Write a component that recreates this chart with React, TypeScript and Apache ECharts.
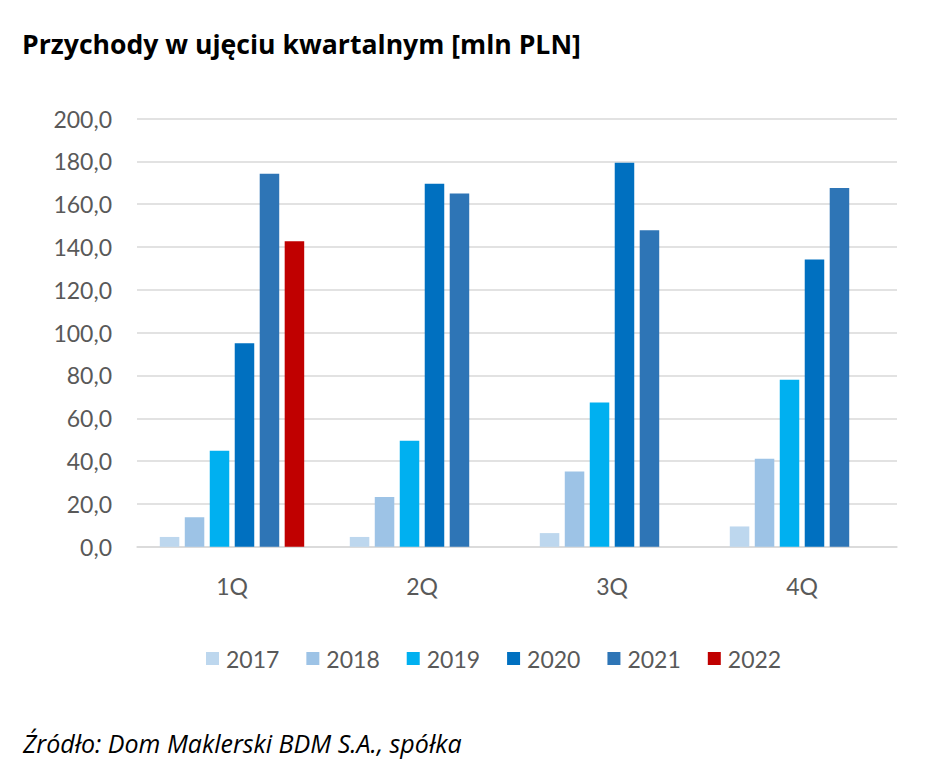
import React, { useEffect, useRef } from "react";
import * as echarts from "echarts";

const categories = ["1Q", "2Q", "3Q", "4Q"];
const years = ["2017", "2018", "2019", "2020", "2021", "2022"];
const colors = ["#BDD7EE", "#9DC3E6", "#00B0F0", "#0070C0", "#2E75B6", "#C00000"];
const v2017 = [4.6, 4.6, 6.4, 9.5];
const v2018 = [13.8, 23.2, 35.2, 41.1];
const v2019 = [44.8, 49.5, 67.4, 78.0];
const v2020 = [95.0, 169.5, 179.3, 134.1];
const v2021 = [174.2, 165.0, 147.8, 167.5];
const v2022 = [142.7, null, null, null];
const seriesValues = [v2017, v2018, v2019, v2020, v2021, v2022];

const titleText = "Przychody w ujęciu kwartalnym [mln PLN]";
const sourceText = "Źródło: Dom Maklerski BDM S.A., spółka";

export default function App() {
  const ref = useRef<HTMLDivElement>(null);
  useEffect(() => {
    document.body.style.margin = "0";
    const chart = echarts.init(ref.current!, null, { renderer: "svg" });
    const font = "Lato, 'Open Sans', sans-serif";
    const font2 = "'Open Sans', Lato, sans-serif";
    chart.setOption({
      animation: false,
      backgroundColor: "#ffffff",
      textStyle: { fontFamily: font },
      title: [
        {
          text: titleText,
          left: 17,
          top: 25,
          textStyle: { fontFamily: font2, fontWeight: "bold", fontSize: 26.6, color: "#000000" },
        },
        {
          text: sourceText,
          left: 18,
          top: 725,
          textStyle: { fontFamily: font2, fontStyle: "italic", fontWeight: "normal", fontSize: 25, color: "#000000" },
        },
      ],
      legend: {
        data: years,
        left: 201,
        top: 642,
        itemWidth: 13,
        itemHeight: 13,
        itemGap: 27,
        icon: "rect",
        textStyle: { fontFamily: font, fontSize: 23, color: "#595959", padding: [0, 0, 0, 2] },
      },
      grid: { left: 137, right: 51, top: 118.5, bottom: 215.2, containLabel: false },
      xAxis: {
        type: "category",
        data: categories,
        axisTick: { show: false },
        axisLine: { lineStyle: { color: "#D9D9D9", width: 1.5 } },
        axisLabel: { fontFamily: font, fontSize: 23, color: "#595959", margin: 28 },
      },
      yAxis: {
        type: "value",
        min: 0,
        max: 200,
        interval: 20,
        axisLine: { show: false },
        axisTick: { show: false },
        splitLine: { lineStyle: { color: "#D9D9D9", width: 1.5 } },
        axisLabel: {
          fontFamily: font,
          fontSize: 23,
          color: "#595959",
          margin: 25,
          formatter: (v: number) => v.toFixed(1).replace(".", ","),
        },
      },
      series: years.map((y, i) => ({
        name: y,
        type: "bar",
        data: seriesValues[i],
        barGap: "28%",
        barCategoryGap: "24%",
        itemStyle: { color: colors[i] },
      })),
    });
    return () => chart.dispose();
  }, []);
  return (
    <div
      ref={ref}
      style={{ position: "absolute", left: 0, top: 0, width: 948, height: 762 }}
    />
  );
}
